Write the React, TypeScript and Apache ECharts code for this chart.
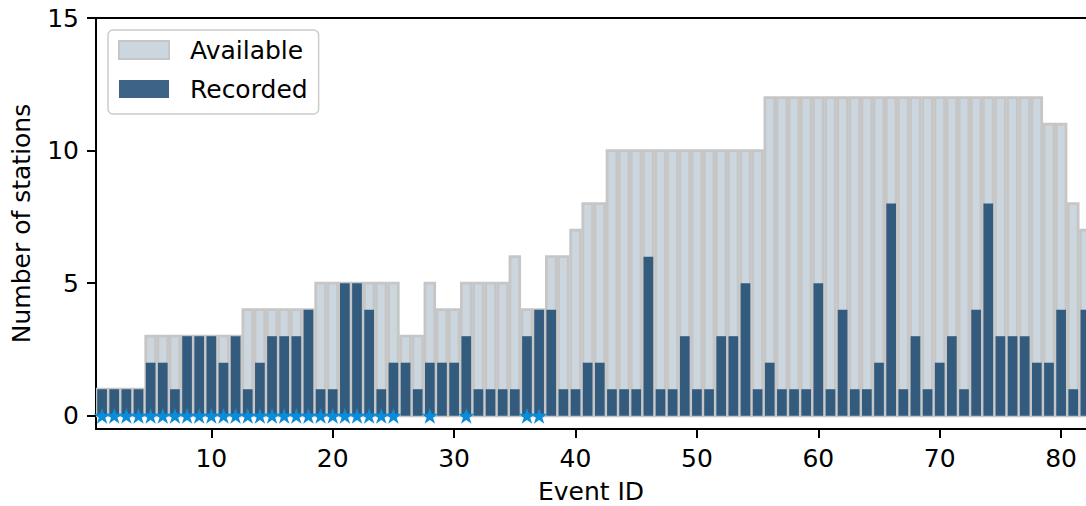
import { useEffect, useRef } from "react";
import * as echarts from "echarts";

// Event identifiers along the horizontal axis
const eventIds = [
  1, 2, 3, 4, 5, 6, 7, 8, 9, 10, 11, 12, 13, 14, 15, 16, 17, 18, 19, 20,
  21, 22, 23, 24, 25, 26, 27, 28, 29, 30, 31, 32, 33, 34, 35, 36, 37, 38, 39, 40,
  41, 42, 43, 44, 45, 46, 47, 48, 49, 50, 51, 52, 53, 54, 55, 56, 57, 58, 59, 60,
  61, 62, 63, 64, 65, 66, 67, 68, 69, 70, 71, 72, 73, 74, 75, 76, 77, 78, 79, 80,
  81, 82,
];

// Stations available for each event
const availableStations = [
  1, 1, 1, 1, 3, 3, 3, 3, 3, 3, 3, 3, 4, 4, 4, 4, 4, 4, 5, 5,
  5, 5, 5, 5, 5, 3, 3, 5, 4, 4, 5, 5, 5, 5, 6, 4, 4, 6, 6, 7,
  8, 8, 10, 10, 10, 10, 10, 10, 10, 10, 10, 10, 10, 10, 10, 12, 12, 12, 12, 12,
  12, 12, 12, 12, 12, 12, 12, 12, 12, 12, 12, 12, 12, 12, 12, 12, 12, 12, 11, 11,
  8, 7,
];

// Stations that actually recorded each event
const recordedStations = [
  1, 1, 1, 1, 2, 2, 1, 3, 3, 3, 2, 3, 1, 2, 3, 3, 3, 4, 1, 1,
  5, 5, 4, 1, 2, 2, 1, 2, 2, 2, 3, 1, 1, 1, 1, 3, 4, 4, 1, 1,
  2, 2, 1, 1, 1, 6, 1, 1, 3, 1, 1, 3, 3, 5, 1, 2, 1, 1, 1, 5,
  1, 4, 1, 1, 2, 8, 1, 3, 1, 2, 3, 1, 4, 8, 3, 3, 3, 2, 2, 4,
  1, 4,
];

// Events flagged with a star marker on the baseline
const starredEvents = [
  1, 2, 3, 4, 5, 6, 7, 8, 9, 10, 11, 12, 13, 14, 15, 16, 17, 18, 19, 20,
  21, 22, 23, 24, 25, 28, 31, 36, 37,
];

const xTickValues = [10, 20, 30, 40, 50, 60, 70, 80];
const yTickValues = [0, 5, 10, 15];

const FONT = "DejaVu Sans";
const AVAILABLE_FILL = "#ccd6df";
const AVAILABLE_EDGE = "#c6c6c6";
const RECORDED_FILL = "#335b7e";
const STAR_COLOR = "#0a8cd8";

const STAR_PATH =
  "path://M0,-1L0.2245,-0.309L0.951,-0.309L0.363,0.118L0.588,0.809L0,0.382L-0.588,0.809L-0.363,0.118L-0.951,-0.309L-0.2245,-0.309Z";

function rectRenderer(barWidth: number, style: any) {
  return (_params: any, api: any) => {
    const x = api.value(0);
    const v = api.value(1);
    const topLeft = api.coord([x - barWidth / 2, v]);
    const bottomRight = api.coord([x + barWidth / 2, 0]);
    return {
      type: "rect",
      shape: {
        x: topLeft[0],
        y: topLeft[1],
        width: bottomRight[0] - topLeft[0],
        height: bottomRight[1] - topLeft[1],
      },
      style,
    };
  };
}

export default function App() {
  const ref = useRef<HTMLDivElement>(null);

  useEffect(() => {
    if (!ref.current) return;
    const chart = echarts.init(ref.current, null, { renderer: "svg" });

    const availableData = eventIds.map((id, i) => [id, availableStations[i]]);
    const recordedData = eventIds.map((id, i) => [id, recordedStations[i]]);
    const starData = starredEvents.map((id) => [id, 0]);

    const axisLineStyle = { color: "#000", width: 2 };
    const xMin = 0.5;
    const xMax = 82.05;

    chart.setOption({
      animation: false,
      backgroundColor: "#fff",
      textStyle: { fontFamily: FONT },
      grid: {
        left: 96,
        right: 0,
        top: 18,
        bottom: 77,
        containLabel: false,
        outerBoundsMode: "none",
      },
      legend: {
        orient: "vertical",
        left: 108,
        top: 30,
        padding: [7, 11, 12, 10],
        backgroundColor: "rgba(255,255,255,0.8)",
        borderColor: "#cccccc",
        borderWidth: 1.5,
        borderRadius: 5,
        itemWidth: 50,
        itemHeight: 18,
        itemGap: 13,
        icon: "rect",
        textStyle: {
          fontFamily: FONT,
          fontSize: 25,
          color: "#000",
          lineHeight: 26,
          padding: [0, 0, 0, 16],
        },
        data: [
          {
            name: "Available",
            itemStyle: { color: AVAILABLE_FILL, borderColor: AVAILABLE_EDGE, borderWidth: 2 },
          },
          { name: "Recorded", itemStyle: { color: "#3d6386" } },
        ],
      },
      xAxis: [
        {
          type: "value",
          min: xMin,
          max: xMax,
          name: "Event ID",
          nameLocation: "middle",
          nameGap: 50,
          nameTextStyle: { fontFamily: FONT, fontSize: 25, color: "#000" },
          axisLine: { show: true, onZero: false, lineStyle: axisLineStyle },
          axisTick: {
            show: true,
            length: 9,
            lineStyle: axisLineStyle,
            customValues: xTickValues,
          },
          axisLabel: {
            fontFamily: FONT,
            fontSize: 25,
            color: "#000",
            margin: 17,
            customValues: xTickValues,
          },
          splitLine: { show: false },
        },
        {
          type: "value",
          position: "top",
          min: xMin,
          max: xMax,
          axisLine: { show: true, onZero: false, lineStyle: axisLineStyle },
          axisTick: { show: false },
          axisLabel: { show: false },
          splitLine: { show: false },
        },
      ],
      yAxis: {
        type: "value",
        min: -0.5,
        max: 15,
        name: "Number of stations",
        nameLocation: "middle",
        nameGap: 62,
        nameTextStyle: { fontFamily: FONT, fontSize: 25, color: "#000" },
        axisLine: { show: true, onZero: false, lineStyle: axisLineStyle },
        axisTick: {
          show: true,
          length: 9,
          lineStyle: axisLineStyle,
          customValues: yTickValues,
        },
        axisLabel: {
          fontFamily: FONT,
          fontSize: 25,
          color: "#000",
          margin: 17,
          customValues: yTickValues,
        },
        splitLine: { show: false },
      },
      series: [
        {
          name: "Available",
          type: "custom",
          xAxisIndex: 0,
          clip: true,
          itemStyle: { color: AVAILABLE_FILL },
          encode: { x: 0, y: 1 },
          renderItem: rectRenderer(0.8, {
            fill: AVAILABLE_FILL,
            stroke: AVAILABLE_EDGE,
            lineWidth: 2.8,
          }),
          data: availableData,
          z: 1,
        },
        {
          name: "Recorded",
          type: "custom",
          xAxisIndex: 0,
          clip: true,
          itemStyle: { color: RECORDED_FILL },
          encode: { x: 0, y: 1 },
          renderItem: rectRenderer(0.8, { fill: RECORDED_FILL }),
          data: recordedData,
          z: 2,
        },
        {
          name: "Flagged",
          type: "scatter",
          xAxisIndex: 0,
          symbol: STAR_PATH,
          symbolSize: [17, 16],
          itemStyle: { color: STAR_COLOR, opacity: 1 },
          data: starData,
          z: 3,
        },
      ],
    });

    return () => chart.dispose();
  }, []);

  return (
    <div
      ref={ref}
      style={{ position: "absolute", left: 0, top: 0, width: 1086, height: 506 }}
    />
  );
}
